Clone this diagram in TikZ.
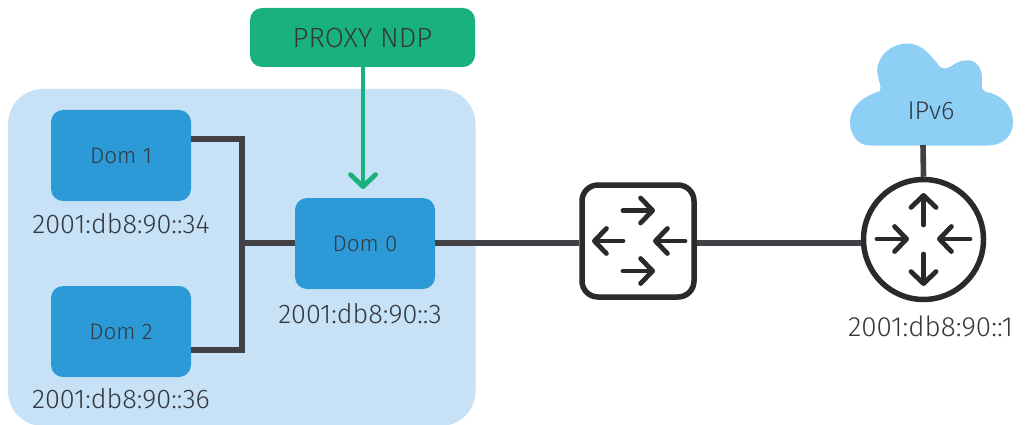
\documentclass[tikz,border=0pt]{standalone}
\usepackage{fontspec}
\setmainfont[UprightFont=* Light]{Fira Sans}
\usetikzlibrary{arrows.meta}
\definecolor{panel}{HTML}{C7E1F6}
\definecolor{dom}{HTML}{2D9AD8}
\definecolor{grn}{HTML}{1AB27C}
\definecolor{cloudc}{HTML}{8ED0F5}
\definecolor{txt}{HTML}{33393F}
\definecolor{wire}{HTML}{414145}
\definecolor{icon}{HTML}{2A2A2C}
\tikzset{
  dombox/.style={fill=dom,rounded corners=12pt,minimum width=140pt,minimum height=91pt,inner sep=0,text=txt,font=\fontsize{22.5}{26}\selectfont},
  addr/.style={text=txt,inner sep=0,font=\fontsize{27}{30}\selectfont},
  wireline/.style={draw=wire,line width=5.6pt},
  arw/.style={draw=icon,line width=4.8pt,line cap=round,-{Straight Barb[round,length=12pt,width=25pt]}},
}
\begin{document}
\begin{tikzpicture}[x=1pt,y=-1pt]
\useasboundingbox (0,0) rectangle (1027,425);
\fill[panel,rounded corners=35pt] (8,89) rectangle (475.5,426);
\node[fill=grn,rounded corners=12pt,minimum width=225pt,minimum height=59pt,inner sep=0,text=txt,font=\fontsize{27.8}{30}\selectfont] (ndp) at (362.5,37.5) {PROXY NDP};
\node[dombox] (d1) at (121,155.5) {Dom 1};
\node[dombox] (d2) at (121,331.5) {Dom 2};
\node[dombox] (d0) at (365,243.5) {Dom 0};
\node[addr] (a1) at (121,224) {2001:db8:90::34};
\node[addr] (a2) at (121,399) {2001:db8:90::36};
\node[addr] (a0) at (360,314) {2001:db8:90::3};
\node[addr,font=\fontsize{27.8}{30}\selectfont] (ar) at (930.5,326) {2001:db8:90::1};
\coordinate (j) at (242,243);
\coordinate (d1p) at (191,139);
\coordinate (d2p) at (191,350);
\draw[wireline,line cap=butt] (d1p) -| (j) |- (d2p);
\draw[wireline] (j) -- (d0.west |- j);
\node[draw=icon,line width=5.5pt,fill=white,rounded corners=16pt,minimum width=112pt,minimum height=112pt,inner sep=0] (sw) at (638,241) {};
\node[draw=icon,line width=5.5pt,fill=white,circle,minimum size=120pt,inner sep=0] (rt) at (923.5,239.5) {};
\draw[wireline] (d0.east |- j) -- (sw.west |- j);
\draw[wireline] (sw.east |- j) -- (rt.west |- j);
% cloud
\fill[cloudc] (870,145.5) .. controls (858,145.5) and (850,135) .. (850,122)
  .. controls (850,107) and (862,97) .. (880,91)
  .. controls (882,88) and (878,80) .. (877,70)
  .. controls (878,55) and (892,43.5) .. (907,43.5)
  .. controls (922,43.5) and (930,55) .. (937,63)
  .. controls (942,72) and (948,68) .. (953,65)
  .. controls (960,60) and (966,60) .. (970,60.5)
  .. controls (978,62) and (982,70) .. (982,78)
  .. controls (982,84) and (980,90) .. (986,92)
  .. controls (1003,95) and (1013,107) .. (1013,122)
  .. controls (1013,135) and (1004,145.5) .. (988,145.5) -- cycle;
\coordinate (cb) at (923,145);
\node[text=txt,inner sep=0,font=\fontsize{25.5}{28}\selectfont] (cl) at (931,111) {IPv6};
\draw[wireline] (cb) -- (rt.north);
% switch arrows
\coordinate (s1a) at (623,210.5); \coordinate (s1b) at (655,210.5);
\coordinate (s2a) at (623,241); \coordinate (s2b) at (592,241);
\coordinate (s3a) at (685,241); \coordinate (s3b) at (653,241);
\coordinate (s4a) at (623,271); \coordinate (s4b) at (655,271);
\draw[arw] (s1a) -- (s1b);
\draw[arw] (s2a) -- (s2b);
\draw[arw] (s3a) -- (s3b);
\draw[arw] (s4a) -- (s4b);
% router arrows
\coordinate (r1a) at (923.5,225); \coordinate (r1b) at (923.5,193);
\coordinate (r2a) at (923.5,254); \coordinate (r2b) at (923.5,286);
\coordinate (r3a) at (877,239); \coordinate (r3b) at (909,239);
\coordinate (r4a) at (970,239); \coordinate (r4b) at (937,239);
\draw[arw] (r1a) -- (r1b);
\draw[arw] (r2a) -- (r2b);
\draw[arw] (r3a) -- (r3b);
\draw[arw] (r4a) -- (r4b);
% proxy arrow
\coordinate (ndptip) at (363,189);
\draw[draw=grn,line width=4.8pt,-{Straight Barb[round,length=12pt,width=25pt]}] (ndp.south -| ndptip) -- (ndptip);
\end{tikzpicture}
\end{document}
